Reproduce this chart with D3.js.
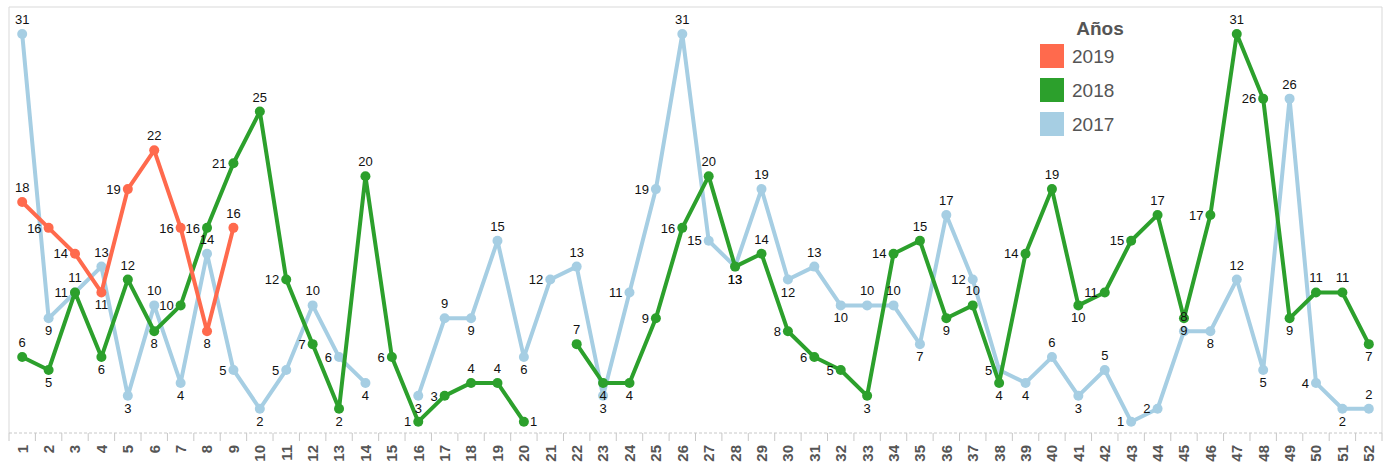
<!DOCTYPE html>
<html>
<head>
<meta charset="utf-8">
<script src="https://cdn.jsdelivr.net/npm/d3@7"></script>
<style>
    body { margin: 0; background: #fff; }
    svg { display: block; font-family: "Liberation Sans", Arial, sans-serif; }
</style>
</head>
<body>
<div id="chart"></div>
<script>
const weeks = d3.range(1, 53);

// valores por semana (null = sin dato)
const values2019 = [18, 16, 14, 11, 19, 22, 16, 8, 16];
const values2018 = [6, 5, 11, 6, 12, 8, 10, 16, 21, 25, 12, 7, 2, 20, 6, 1, 3, 4, 4, 1,
    null, 7, 4, 4, 9, 16, 20, 13, 14, 8, 6, 5, 3, 14, 15, 9, 10, 4, 14, 19,
    10, 11, 15, 17, 9, 17, 31, 26, 9, 11, 11, 7];
const values2017 = [31, 9, 11, 13, 3, 10, 4, 14, 5, 2, 5, 10, 6, 4, null, 3, 9, 9, 15, 6,
    12, 13, 3, 11, 19, 31, 15, 13, 19, 12, 13, 10, 10, 10, 7, 17, 12, 5, 4, 6,
    3, 5, 1, 2, 8, 8, 12, 5, 26, 4, 2, 2];

const seriesNames = ["2019", "2018", "2017"];
const seriesColors = ["#ff6a4d", "#2ca02c", "#a6cee3"];
const seriesValues = [values2019, values2018, values2017];

const width = 1398;
const height = 466;
const plotLeft = 9;
const plotRight = 1382;
const plotTop = 7;
const plotBottom = 433;

const x = d3.scaleBand()
    .domain(weeks)
    .range([plotLeft, plotRight]);

const y = d3.scaleLinear()
    .domain([0, 33])
    .range([434.6, 8.2]);

const cx = w => x(w) + x.bandwidth() / 2;

const svg = d3.select("#chart").append("svg")
    .attr("width", width)
    .attr("height", height)
    .attr("viewBox", [0, 0, width, height]);

// marco
svg.append("path")
    .attr("d", `M${plotLeft},${plotBottom}V${plotTop}H${plotRight}V${plotBottom}`)
    .attr("fill", "none")
    .attr("stroke", "#d9d9d9")
    .attr("stroke-width", 1);

svg.append("line")
    .attr("x1", plotLeft).attr("x2", plotRight)
    .attr("y1", plotBottom).attr("y2", plotBottom)
    .attr("stroke", "#c8c8c8")
    .attr("stroke-dasharray", "3,2");

// ticks entre semanas
svg.append("g")
    .attr("stroke", "#c8c8c8")
    .selectAll("line")
    .data(weeks.concat([53]))
    .join("line")
    .attr("x1", d => d === 53 ? plotRight : x(d))
    .attr("x2", d => d === 53 ? plotRight : x(d))
    .attr("y1", plotBottom)
    .attr("y2", plotBottom + 8);

// etiquetas del eje
svg.append("g")
    .attr("transform", `translate(0,${plotBottom})`)
    .call(d3.axisBottom(x).tickSize(0).tickPadding(0))
    .call(g => g.select(".domain").remove())
    .call(g => g.selectAll(".tick text")
        .attr("transform", "rotate(-90)")
        .attr("x", -12)
        .attr("y", 0)
        .attr("dy", "0.36em")
        .attr("text-anchor", "end")
        .attr("font-family", "\"Liberation Sans\", Arial, sans-serif")
        .attr("font-size", 15)
        .attr("font-weight", "bold")
        .attr("fill", "#555"));

function pickSide(vals, i) {
    const v = vals[i];
    const prev = i > 0 ? vals[i - 1] : null;
    const next = i < vals.length - 1 ? vals[i + 1] : null;
    const hi = (prev == null || v >= prev) && (next == null || v >= next);
    const lo = (prev == null || v <= prev) && (next == null || v <= next);
    if (hi) return "top";
    if (lo) {
        // junto al eje no cabe debajo
        if (y(v) + 17 > plotBottom - 2) return next == null ? "right" : "left";
        return "bottom";
    }
    return "left";
}

const line = d3.line()
    .defined(d => d.value != null)
    .x(d => cx(d.week))
    .y(d => y(d.value));

const allPoints = [];

// 2017 abajo, 2019 arriba
for (let s = seriesNames.length - 1; s >= 0; s--) {
    const vals = seriesValues[s];
    const data = vals.map((v, i) => ({week: weeks[i], value: v, side: v == null ? null : pickSide(vals, i)}));

    svg.append("path")
        .datum(data)
        .attr("fill", "none")
        .attr("stroke", seriesColors[s])
        .attr("stroke-width", 4)
        .attr("stroke-linejoin", "round")
        .attr("stroke-linecap", "round")
        .attr("d", line);

    svg.append("g")
        .attr("fill", seriesColors[s])
        .selectAll("circle")
        .data(data.filter(d => d.value != null))
        .join("circle")
        .attr("cx", d => cx(d.week))
        .attr("cy", d => y(d.value))
        .attr("r", 5);

    data.filter(d => d.value != null).forEach(d => allPoints.push(d));
}

svg.append("g")
    .attr("font-size", 13)
    .attr("fill", "#111")
    .selectAll("text")
    .data(allPoints)
    .join("text")
    .attr("x", d => cx(d.week))
    .attr("y", d => y(d.value))
    .text(d => d.value)
    .each(function (d) {
        const t = d3.select(this);
        switch (d.side) {
            case "top":
                t.attr("text-anchor", "middle").attr("dy", -10);
                break;
            case "bottom":
                t.attr("text-anchor", "middle").attr("dy", 17);
                break;
            case "left":
                t.attr("text-anchor", "end").attr("dx", -7).attr("dy", "0.36em");
                break;
            case "right":
                t.attr("text-anchor", "start").attr("dx", 6).attr("dy", "0.36em");
                break;
        }
    });

// leyenda
const legend = svg.append("g")
    .attr("fill", "#555");

legend.append("text")
    .attr("x", 1100)
    .attr("y", 35)
    .attr("text-anchor", "middle")
    .attr("font-size", 19)
    .attr("font-weight", "bold")
    .text("Años");

const item = legend.selectAll(".item")
    .data(seriesNames)
    .join("g")
    .attr("class", "item")
    .attr("transform", (d, i) => `translate(1040,${44 + i * 34})`);

item.append("rect")
    .attr("width", 24)
    .attr("height", 24)
    .attr("fill", (d, i) => seriesColors[i]);

item.append("text")
    .attr("x", 32)
    .attr("y", 19)
    .attr("font-size", 19)
    .text(d => d);
</script>
</body>
</html>
